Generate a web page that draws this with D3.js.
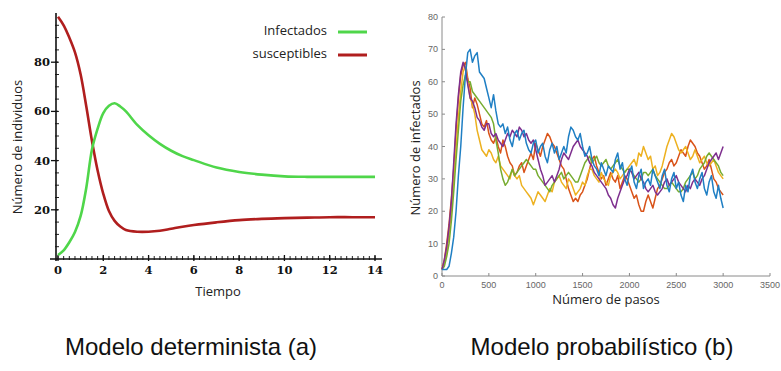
<!DOCTYPE html>
<html>
<head>
<meta charset="utf-8">
<script src="https://cdn.jsdelivr.net/npm/d3@7"></script>
<style>
  html, body { margin: 0; padding: 0; background: #fff; }
  svg { display: block; }
</style>
</head>
<body>
<svg id="chart" width="781" height="371"></svg>
<script>
// deterministic model (a)
const tiempo = [0, 0.25, 0.5, 0.75, 1, 1.25, 1.5, 1.75, 2, 2.25, 2.5, 2.75, 3, 3.5, 4, 4.5, 5, 5.5, 6, 7, 8, 9, 10, 11, 12, 13, 14];
const infectados = [1.6, 3.5, 6.8, 11, 17.5, 29, 44.5, 53, 59.3, 62.3, 63.3, 62, 60, 54.5, 50.3, 46.8, 44, 41.8, 40.2, 37.2, 35.4, 34.3, 33.6, 33.4, 33.4, 33.4, 33.4];
const susceptibles = [98.5, 95, 90, 84, 75, 62, 48, 36, 26.5, 19.5, 15.5, 13.2, 11.8, 11.1, 11.1, 11.5, 12.3, 13.1, 13.8, 14.9, 15.8, 16.3, 16.6, 16.8, 17, 17, 17];
const xTicksA = [0, 2, 4, 6, 8, 10, 12, 14];
const yTicksA = [20, 40, 60, 80];

// probabilistic model (b): one value every 25 steps, 0..3000
const pasoStep = 25;
const runBlue = [2,2,2,3,7,12,20,31,40,52, 62,69,70,66,68,69,63,62,61,58, 55,52,56,51,47,46,47,44,46,42, 40,44,45,42,44,45,41,39,38,41, 42,38,40,41,37,35,39,41,38,40, 36,38,40,38,43,46,45,43,42,44, 40,37,38,40,36,34,33,31,35,33, 31,34,33,32,36,38,33,35,30,28, 32,34,29,27,31,33,27,29,30,28, 33,31,29,27,31,33,28,26,30,32, 27,29,25,23,28,26,31,33,29,27, 30,32,27,25,29,31,26,24,28,24, 21];
const runOrange = [2,5,10,16,24,33,45,55,62,65, 66,61,58,52,55,53,50,47,46,48, 44,42,41,43,40,38,42,40,37,35, 34,31,32,34,35,32,34,36,38,36, 41,39,37,40,42,44,43,41,40,38, 36,34,33,30,27,25,23,24,23,25, 26,28,30,33,36,37,34,32,30,31, 28,30,32,30,29,31,27,29,31,30, 28,26,24,25,22,20,20,23,25,23, 21,24,27,28,30,32,33,35,36,34, 35,37,39,38,37,40,42,41,40,38, 37,35,33,34,36,33,30,29,27,26, 25];
const runYellow = [3,4,7,13,20,30,40,49,57,63, 65,60,55,53,50,45,42,39,38,37, 39,38,36,35,37,34,33,32,31,30, 33,31,30,31,28,27,26,25,24,22, 24,26,25,24,23,25,27,26,29,30, 31,29,28,27,30,29,27,25,26,27, 29,28,31,33,33,31,30,29,32,30, 29,28,31,32,33,32,30,31,32,33, 34,35,36,34,38,37,40,38,36,37, 33,34,31,32,34,37,40,42,44,43, 41,39,38,39,40,38,36,37,39,37, 35,36,37,35,34,35,36,34,32,31, 30];
const runPurple = [2,5,9,15,23,35,47,56,63,66, 64,59,55,54,52,49,48,46,45,47, 47,44,43,44,42,41,40,42,44,43, 45,44,43,46,45,43,44,42,41,42, 39,36,33,31,28,29,30,31,29,31, 33,36,38,37,36,38,40,41,42,40, 39,38,37,35,34,32,31,30,29,28, 27,25,24,22,21,24,26,28,30,31, 33,32,30,31,32,30,29,27,26,27, 28,26,25,26,27,29,30,28,29,30, 31,29,28,27,26,28,27,29,30,29, 28,30,31,33,35,36,37,38,36,38, 40];
const runGreen = [2,3,6,10,17,26,36,45,54,59, 62,60,60,57,56,55,54,53,52,51, 50,49,47,42,38,33,30,28,29,31, 33,31,32,33,34,35,36,35,34,33, 33,31,30,29,28,27,26,28,29,30, 31,32,30,31,32,31,30,29,29,31, 33,35,36,37,35,36,37,35,34,35, 36,34,33,34,35,36,34,33,32,33, 33,32,31,30,29,30,32,32,31,32, 33,31,30,29,28,27,27,28,29,28, 27,26,26,27,29,30,31,32,30,31, 33,34,35,37,38,37,36,35,34,32, 31];
const xTicksB = [0, 500, 1000, 1500, 2000, 2500, 3000, 3500];
const yTicksB = [0, 10, 20, 30, 40, 50, 60, 70, 80];

const svg = d3.select("#chart");

// ---------- panel (a) ----------
const xa = d3.scaleLinear().domain([0, 14]).range([58, 375]);
const ya = d3.scaleLinear().domain([0, 100]).range([259, 13]);
const ga = svg.append("g");

// minor ticks
ga.append("g").selectAll("line")
    .data(d3.range(0, 14.01, 0.25))
    .join("line")
    .attr("x1", d => xa(d)).attr("x2", d => xa(d))
    .attr("y1", ya(0) - 3).attr("y2", ya(0) + 1)
    .attr("stroke", "#222").attr("stroke-width", 1);
ga.append("g").selectAll("line")
    .data(d3.range(5, 100, 5))
    .join("line")
    .attr("x1", xa(0) - 3).attr("x2", xa(0) + 1)
    .attr("y1", d => ya(d)).attr("y2", d => ya(d))
    .attr("stroke", "#222").attr("stroke-width", 1);

// axis lines
ga.append("line")
    .attr("x1", 50).attr("x2", 382)
    .attr("y1", ya(0)).attr("y2", ya(0))
    .attr("stroke", "#111").attr("stroke-width", 1.6);
ga.append("line")
    .attr("x1", xa(0) - 2).attr("x2", xa(0) - 2)
    .attr("y1", ya(100)).attr("y2", ya(0) + 2)
    .attr("stroke", "#111").attr("stroke-width", 1.6);

// major ticks + labels
ga.append("g").selectAll("line")
    .data(xTicksA)
    .join("line")
    .attr("x1", d => xa(d)).attr("x2", d => xa(d))
    .attr("y1", ya(0) - 4).attr("y2", ya(0) + 2)
    .attr("stroke", "#111").attr("stroke-width", 1.3);
ga.append("g").selectAll("text")
    .data(xTicksA)
    .join("text")
    .attr("x", d => xa(d)).attr("y", ya(0) + 15)
    .attr("text-anchor", "middle")
    .style("font", "bold 11.5px 'DejaVu Serif'")
    .attr("fill", "#111")
    .text(d => d);
ga.append("g").selectAll("line")
    .data(yTicksA)
    .join("line")
    .attr("x1", xa(0) - 7).attr("x2", xa(0))
    .attr("y1", d => ya(d)).attr("y2", d => ya(d))
    .attr("stroke", "#111").attr("stroke-width", 1.3);
ga.append("g").selectAll("text")
    .data(yTicksA)
    .join("text")
    .attr("x", xa(0) - 8).attr("y", d => ya(d) + 4)
    .attr("text-anchor", "end")
    .style("font", "bold 11.5px 'DejaVu Serif'")
    .attr("fill", "#111")
    .text(d => d);

const lineA = d3.line().curve(d3.curveCatmullRom.alpha(0.5));
ga.append("path")
    .attr("d", lineA(tiempo.map((t, i) => [xa(t), ya(susceptibles[i])])))
    .attr("fill", "none").attr("stroke", "#b01e1e").attr("stroke-width", 2.6);
ga.append("path")
    .attr("d", lineA(tiempo.map((t, i) => [xa(t), ya(infectados[i])])))
    .attr("fill", "none").attr("stroke", "#4fd64a").attr("stroke-width", 2.6);

// legend
const legend = [
  {label: "Infectados", color: "#4fd64a", y: 31},
  {label: "susceptibles", color: "#b01e1e", y: 54}
];
legend.forEach(l => {
  ga.append("text")
    .attr("x", 327).attr("y", l.y + 4)
    .attr("text-anchor", "end")
    .style("font", "13px 'Open Sans'")
    .attr("fill", "#222")
    .text(l.label);
  ga.append("line")
    .attr("x1", 338).attr("x2", 367)
    .attr("y1", l.y + 1).attr("y2", l.y + 1)
    .attr("stroke", l.color).attr("stroke-width", 3);
});

ga.append("text")
    .attr("transform", "translate(22,147) rotate(-90)")
    .attr("text-anchor", "middle")
    .style("font", "13px 'Open Sans'")
    .attr("fill", "#222")
    .text("Número de individuos");
ga.append("text")
    .attr("x", 218).attr("y", 296)
    .attr("text-anchor", "middle")
    .style("font", "13px 'Open Sans'")
    .attr("fill", "#222")
    .text("Tiempo");

// ---------- panel (b) ----------
const xb = d3.scaleLinear().domain([0, 3500]).range([442, 770]);
const yb = d3.scaleLinear().domain([0, 80]).range([276, 17]);
const gb = svg.append("g");
const gray = "#8a8a8a";

gb.append("line")
    .attr("x1", xb(0)).attr("x2", xb(3500))
    .attr("y1", yb(0)).attr("y2", yb(0))
    .attr("stroke", gray).attr("stroke-width", 1);
gb.append("line")
    .attr("x1", xb(0)).attr("x2", xb(0))
    .attr("y1", yb(80)).attr("y2", yb(0))
    .attr("stroke", gray).attr("stroke-width", 1);
gb.append("g").selectAll("line")
    .data(xTicksB)
    .join("line")
    .attr("x1", d => xb(d)).attr("x2", d => xb(d))
    .attr("y1", yb(0)).attr("y2", yb(0) - 3)
    .attr("stroke", gray);
gb.append("g").selectAll("line")
    .data(yTicksB)
    .join("line")
    .attr("x1", xb(0)).attr("x2", xb(0) + 3)
    .attr("y1", d => yb(d)).attr("y2", d => yb(d))
    .attr("stroke", gray);
gb.append("g").selectAll("text")
    .data(xTicksB)
    .join("text")
    .attr("x", d => xb(d)).attr("y", yb(0) + 12)
    .attr("text-anchor", "middle")
    .style("font", "9px 'Liberation Sans'")
    .attr("fill", "#666")
    .text(d => d);
gb.append("g").selectAll("text")
    .data(yTicksB)
    .join("text")
    .attr("x", xb(0) - 4).attr("y", d => yb(d) + 3)
    .attr("text-anchor", "end")
    .style("font", "9px 'Liberation Sans'")
    .attr("fill", "#666")
    .text(d => d);

const runs = [
  {values: runOrange, color: "#d95319"},
  {values: runYellow, color: "#edb120"},
  {values: runGreen, color: "#77ac30"},
  {values: runPurple, color: "#7e2f8e"},
  {values: runBlue, color: "#1f7fc4"}
];
const lineB = d3.line().x((d, i) => xb(i * pasoStep)).y(d => yb(d));
gb.append("g").selectAll("path")
    .data(runs)
    .join("path")
    .attr("d", d => lineB(d.values))
    .attr("fill", "none")
    .attr("stroke", d => d.color)
    .attr("stroke-width", 1.5)
    .attr("stroke-linejoin", "round");

gb.append("text")
    .attr("transform", "translate(420,148) rotate(-90)")
    .attr("text-anchor", "middle")
    .style("font", "13px 'Open Sans'")
    .attr("fill", "#222")
    .text("Número de infectados");
gb.append("text")
    .attr("x", 606).attr("y", 304)
    .attr("text-anchor", "middle")
    .style("font", "13px 'Open Sans'")
    .attr("fill", "#222")
    .text("Número de pasos");

// captions
svg.append("text")
    .attr("x", 191).attr("y", 355)
    .attr("text-anchor", "middle")
    .style("font", "24px 'Liberation Sans'")
    .attr("fill", "#111")
    .text("Modelo determinista (a)");
svg.append("text")
    .attr("x", 602).attr("y", 355)
    .attr("text-anchor", "middle")
    .style("font", "24px 'Liberation Sans'")
    .attr("fill", "#111")
    .text("Modelo probabilístico (b)");
</script>
</body>
</html>
